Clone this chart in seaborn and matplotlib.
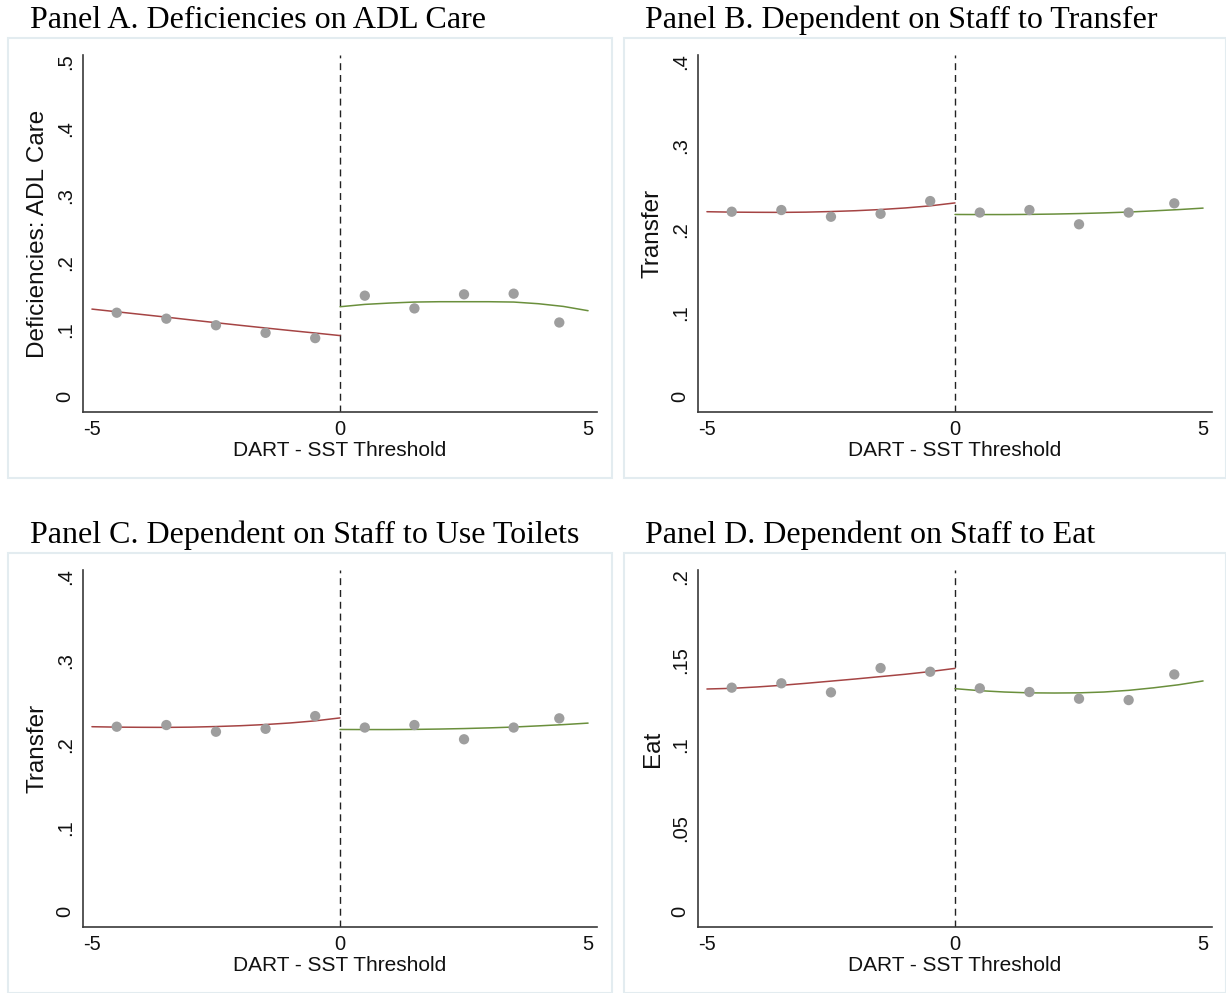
import matplotlib
matplotlib.use("Agg")
import matplotlib.pyplot as plt
from matplotlib.patches import Rectangle
import seaborn as sns
import pandas as pd

sns.set_theme(style="white")
plt.rcParams['font.family'] = ['Liberation Sans', 'DejaVu Sans']

# ---------------- data ----------------
bin_x = [-4.5, -3.5, -2.5, -1.5, -0.5, 0.5, 1.5, 2.5, 3.5, 4.42]
fit_left_x = [-5, -4.5, -4, -3.5, -3, -2.5, -2, -1.5, -1, -0.5, 0]
fit_right_x = [0, 0.5, 1, 1.5, 2, 2.5, 3, 3.5, 4, 4.5, 5]

titles = ["Panel A. Deficiencies on ADL Care",
          "Panel B. Dependent on Staff to Transfer",
          "Panel C. Dependent on Staff to Use Toilets",
          "Panel D. Dependent on Staff to Eat"]
ylabels = ["Deficiencies: ADL Care", "Transfer", "Transfer", "Eat"]
xlabel = "DART - SST Threshold"

a_pts = [0.1256, 0.1167, 0.1069, 0.0956, 0.0877, 0.151, 0.132, 0.153, 0.154, 0.111]
a_left = [0.131, 0.127, 0.123, 0.119, 0.1148, 0.1107, 0.1067, 0.1028, 0.0990, 0.0953, 0.0915]
a_right = [0.1345, 0.138, 0.140, 0.1415, 0.142, 0.142, 0.142, 0.1415, 0.139, 0.135, 0.1286]

b_pts = [0.221, 0.223, 0.215, 0.2185, 0.2337, 0.220, 0.223, 0.206, 0.220, 0.231]
b_left = [0.221, 0.2205, 0.2203, 0.2202, 0.2205, 0.2212, 0.2222, 0.2236, 0.2255, 0.228, 0.2315]
b_right = [0.2177, 0.2176, 0.2176, 0.2178, 0.2182, 0.2188, 0.2196, 0.2206, 0.222, 0.2235, 0.2253]

c_pts = [0.221, 0.223, 0.215, 0.2185, 0.2337, 0.220, 0.223, 0.206, 0.220, 0.231]
c_left = [0.221, 0.2205, 0.2203, 0.2202, 0.2205, 0.2212, 0.2222, 0.2236, 0.2255, 0.228, 0.2315]
c_right = [0.2177, 0.2176, 0.2176, 0.2178, 0.2182, 0.2188, 0.2196, 0.2206, 0.222, 0.2235, 0.2253]

d_pts = [0.1338, 0.1364, 0.131, 0.1455, 0.1433, 0.1334, 0.1312, 0.1272, 0.1264, 0.1417]
d_left = [0.133, 0.1334, 0.1342, 0.1352, 0.1364, 0.1377, 0.139, 0.1404, 0.1418, 0.1434, 0.1453]
d_right = [0.1332, 0.132, 0.1312, 0.1307, 0.1306, 0.1307, 0.1312, 0.1322, 0.1337, 0.1355, 0.1378]

y_ticks = [[0, 0.1, 0.2, 0.3, 0.4, 0.5],
           [0, 0.1, 0.2, 0.3, 0.4],
           [0, 0.1, 0.2, 0.3, 0.4],
           [0, 0.05, 0.1, 0.15, 0.2]]
y_ticklabels = [["0", ".1", ".2", ".3", ".4", ".5"],
                ["0", ".1", ".2", ".3", ".4"],
                ["0", ".1", ".2", ".3", ".4"],
                ["0", ".05", ".1", ".15", ".2"]]
x_ticks = [-5, 0, 5]
x_ticklabels = ["-5", "0", "5"]

panels = [(a_pts, a_left, a_right), (b_pts, b_left, b_right),
          (c_pts, c_left, c_right), (d_pts, d_left, d_right)]

# ---------------- layout ----------------
W, H = 1226, 993
fig = plt.figure(figsize=(W / 100, H / 100), dpi=100)
fig.patch.set_facecolor("white")

def rect(l, t, r, b):
    return [l / W, 1 - b / H, (r - l) / W, (b - t) / H]

axes_px = [(83, 55, 597, 412), (698, 55, 1212, 412),
           (83, 570, 597, 927), (698, 570, 1212, 927)]
frame_px = [(8, 38, 612, 478), (624, 38, 1226, 478),
            (8, 553, 612, 993), (624, 553, 1226, 993)]
title_px = [(30, 20), (645, 20), (30, 535), (645, 535)]

RED = "#a54444"
GREEN = "#6a8f3c"
GRAY = "#9e9e9e"
SPINE = "#3a3a3a"

for i, (pts, left, right) in enumerate(panels):
    fl, ft, fr, fb = frame_px[i]
    fig.patches.append(Rectangle((fl / W, 1 - fb / H), (fr - fl) / W, (fb - ft) / H,
                                 transform=fig.transFigure, fill=False,
                                 edgecolor="#e3ecf0", linewidth=1.5))
    tx, ty = title_px[i]
    fig.text(tx / W, 1 - ty / H, titles[i], family=['Liberation Serif', 'DejaVu Serif'],
             fontsize=23, ha="left", va="center", color="black")

    ax = fig.add_axes(rect(*axes_px[i]))
    ax.set_facecolor("white")
    ymax = y_ticks[i][-1]

    df_pts = pd.DataFrame({"x": bin_x, "y": pts})
    df_l = pd.DataFrame({"x": fit_left_x, "y": left})
    df_r = pd.DataFrame({"x": fit_right_x, "y": right})

    ax.axvline(0, color="#222222", linewidth=1.0, linestyle=(0, (5, 3.5)), zorder=1)
    sns.lineplot(data=df_l, x="x", y="y", ax=ax, color=RED, linewidth=1.1, zorder=2)
    sns.lineplot(data=df_r, x="x", y="y", ax=ax, color=GREEN, linewidth=1.1, zorder=2)
    sns.scatterplot(data=df_pts, x="x", y="y", ax=ax, color=GRAY, s=55,
                    edgecolor="none", zorder=3)

    ax.set_xlim(-5.18, 5.18)
    ax.set_ylim(-0.045 * ymax, 1.02 * ymax)
    ax.set_xticks(x_ticks)
    ax.set_xticklabels(x_ticklabels)
    ax.set_yticks(y_ticks[i])
    ax.set_yticklabels(y_ticklabels[i], rotation=90, va="center")

    for s in ["top", "right"]:
        ax.spines[s].set_visible(False)
    for s in ["left", "bottom"]:
        ax.spines[s].set_color(SPINE)
        ax.spines[s].set_linewidth(1.2)
    ax.tick_params(axis="both", direction="out", length=4, width=1.0, color=SPINE,
                   labelsize=14.5, labelcolor="#111111", pad=2)
    ax.set_xlabel(xlabel, fontsize=15, color="#111111", labelpad=1)
    ax.set_ylabel(ylabels[i], fontsize=17.5, color="#111111", labelpad=5)
    ax.grid(False)

fig.savefig("out.png", dpi=100, facecolor="white")
